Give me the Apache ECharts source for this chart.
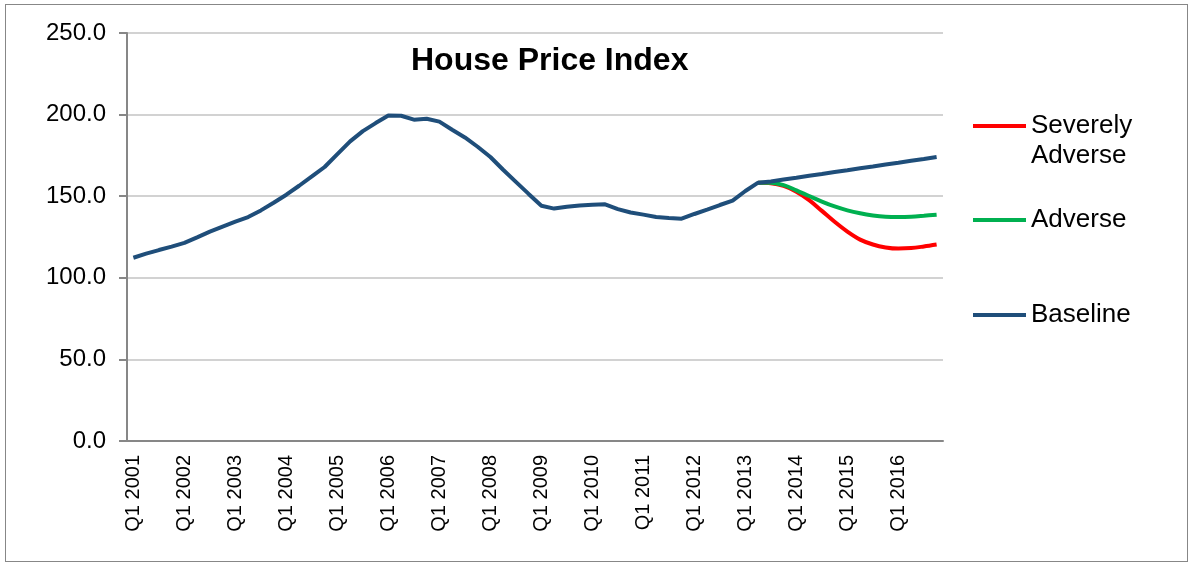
<!DOCTYPE html>
<html>
<head>
<meta charset="utf-8">
<script src="https://cdn.jsdelivr.net/npm/echarts@6/dist/echarts.min.js"></script>
<style>
  html, body { margin: 0; padding: 0; background: #fff; }
  .frame {
    position: absolute; left: 5px; top: 4px;
    width: 1183px; height: 558px;
    box-sizing: border-box;
    border: 1.5px solid #878787;
  }
  #chart { position: absolute; left: 0; top: 0; width: 1193px; height: 563px; }
</style>
</head>
<body>
<div class="frame"></div>
<div id="chart"></div>
<script>
const years = [2001, 2002, 2003, 2004, 2005, 2006, 2007, 2008, 2009, 2010, 2011, 2012, 2013, 2014, 2015, 2016];
const quarterNames = ['Q1', 'Q2', 'Q3', 'Q4'];

// Q1 2001 .. Q4 2016
const baseline = [
  112.3, 114.8, 117.0, 119.1, 121.4, 124.8, 128.3, 131.4,
  134.4, 137.2, 141.3, 146.0, 150.9, 156.4, 162.1, 167.9,
  175.8, 183.6, 189.9, 194.8, 199.4, 199.3, 196.9, 197.5,
  195.7, 190.7, 186.0, 180.3, 174.0, 166.2, 158.8, 151.4,
  144.1, 142.4, 143.5, 144.3, 144.8, 145.0, 142.1, 140.0,
  138.7, 137.3, 136.7, 136.2, 139.1, 141.8, 144.6, 147.3,
  153.2, 158.3, 159.0, 160.2, 161.3, 162.5, 163.6, 164.8,
  165.9, 167.1, 168.2, 169.4, 170.5, 171.7, 172.8, 174.0
];
// scenarios start at Q2 2013
const scenarioStart = 49;
const adverse = [158.3, 158.2, 156.8, 153.6, 150.1, 146.7, 143.7, 141.3, 139.5, 138.2, 137.4, 137.2, 137.4, 138.0, 138.7];
const severelyAdverse = [158.3, 158.0, 156.3, 152.8, 147.6, 141.0, 134.3, 128.3, 123.4, 120.4, 118.6, 117.9, 118.2, 119.2, 120.4];

const yTicks = [0, 50, 100, 150, 200, 250];

const categories = [];
years.forEach(y => quarterNames.forEach(q => categories.push(q + ' ' + y)));

const pad = arr => new Array(scenarioStart).fill(null).concat(arr);

const font = "'Liberation Sans', Arial, sans-serif";
const axisGray = '#878787';

const myChart = echarts.init(document.getElementById('chart'));

const legendBase = {
  orient: 'vertical',
  left: 973,
  padding: 0,
  icon: 'rect',
  itemWidth: 53,
  itemHeight: 4,
  itemGap: 0,
  selectedMode: false,
  textStyle: { fontFamily: font, fontSize: 26, color: '#000', lineHeight: 30 }
};

const option = {
  animation: false,
  title: {
    text: 'House Price Index',
    left: 411,
    top: 45,
    padding: 0,
    textStyle: { fontFamily: font, fontSize: 32, fontWeight: 'bold', color: '#000' }
  },
  legend: [
    Object.assign({}, legendBase, {
      top: 81,
      data: ['Severely Adverse'],
      formatter: () => '\nSeverely\nAdverse'
    }),
    Object.assign({}, legendBase, { top: 205, data: ['Adverse'] }),
    Object.assign({}, legendBase, { top: 300, data: ['Baseline'] })
  ],
  grid: { left: 127, right: 250, top: 33, bottom: 122 },
  xAxis: {
    type: 'category',
    data: categories,
    boundaryGap: true,
    axisLine: { lineStyle: { color: axisGray, width: 2 } },
    axisTick: { interval: 3, length: 6, lineStyle: { color: axisGray, width: 2 } },
    axisLabel: {
      interval: 3,
      rotate: 90,
      margin: 14,
      fontFamily: font,
      fontSize: 20,
      color: '#000'
    },
    splitLine: { show: false }
  },
  yAxis: {
    type: 'value',
    min: yTicks[0],
    max: yTicks[yTicks.length - 1],
    interval: 50,
    axisLine: { show: true, lineStyle: { color: axisGray, width: 2 } },
    axisTick: { show: true, length: 8, lineStyle: { color: axisGray, width: 2 } },
    axisLabel: {
      margin: 21,
      fontFamily: font,
      fontSize: 24,
      color: '#000',
      formatter: v => v.toFixed(1)
    },
    splitLine: { lineStyle: { color: '#c3c3c3', width: 1.5 } }
  },
  series: [
    {
      name: 'Severely Adverse',
      type: 'line',
      data: pad(severelyAdverse),
      symbol: 'none',
      smooth: 0.35,
      color: '#ff0000',
      lineStyle: { width: 4, color: '#ff0000' }
    },
    {
      name: 'Adverse',
      type: 'line',
      data: pad(adverse),
      symbol: 'none',
      smooth: 0.35,
      color: '#00b050',
      lineStyle: { width: 4, color: '#00b050' }
    },
    {
      name: 'Baseline',
      type: 'line',
      data: baseline,
      symbol: 'none',
      color: '#1f4e7a',
      lineStyle: { width: 4, color: '#1f4e7a' }
    }
  ]
};

myChart.setOption(option);
</script>
</body>
</html>
